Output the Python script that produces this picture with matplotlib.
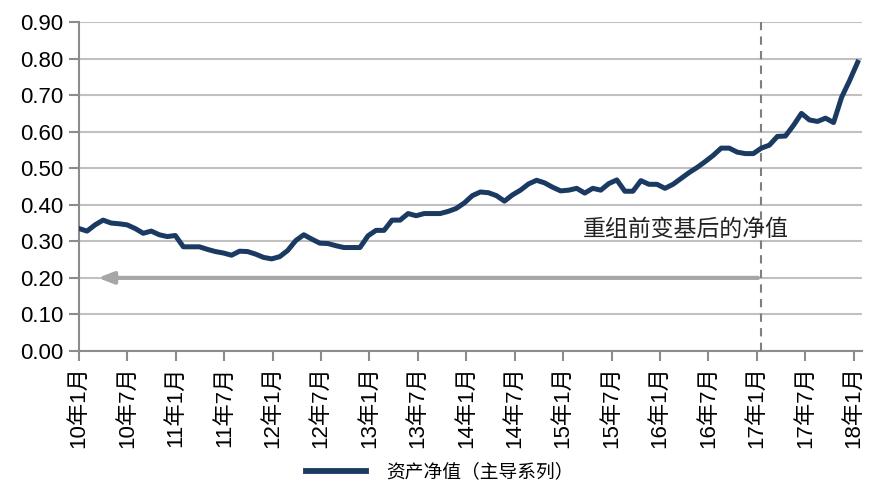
import matplotlib.pyplot as plt
import numpy as np

plt.rcParams['font.family'] = ['Liberation Sans', 'Noto Sans CJK SC', 'DejaVu Sans']

# monthly net asset value, Jan 2010 .. Jan 2018
nav = [
    0.335, 0.328, 0.345, 0.358, 0.350, 0.348, 0.345, 0.335, 0.322, 0.328, 0.318, 0.313,
    0.316, 0.285, 0.285, 0.285, 0.278, 0.272, 0.268, 0.262, 0.273, 0.272, 0.265, 0.256,
    0.252, 0.258, 0.275, 0.302, 0.318, 0.306, 0.295, 0.294, 0.288, 0.283, 0.283, 0.283,
    0.315, 0.330, 0.330, 0.358, 0.358, 0.376, 0.370, 0.376, 0.376, 0.376, 0.382, 0.390,
    0.405, 0.425, 0.435, 0.433, 0.425, 0.410, 0.427, 0.440, 0.457, 0.467, 0.460, 0.448,
    0.438, 0.440, 0.445, 0.432, 0.445, 0.440, 0.458, 0.468, 0.437, 0.437, 0.466, 0.456,
    0.456, 0.445, 0.456, 0.472, 0.488, 0.502, 0.518, 0.535, 0.555, 0.555, 0.544, 0.540,
    0.540, 0.555, 0.563, 0.587, 0.588, 0.617, 0.650, 0.632, 0.628, 0.637, 0.625, 0.694,
    0.740, 0.790,
]
months = np.arange(len(nav)) * 96.5 / (len(nav) - 1)

tick_pos = list(range(0, 97, 6))
tick_labels = [f"{10 + i // 2}年{1 if i % 2 == 0 else 7}月" for i in range(len(tick_pos))]

split_month = 84.5       # restructuring point (17年1月)
rebased_level = 0.20

fig = plt.figure(figsize=(8.71, 4.97), dpi=100)
ax = fig.add_axes([0.0907, 0.2938, 0.8986, 0.6619])

navy = '#1B3A62'
ax.plot(months, nav, color=navy, lw=3.6, solid_joinstyle='round',
        label='资产净值（主导系列）', zorder=4)

ax.set_xlim(0, 97)
ax.set_ylim(0, 0.9)
ax.set_yticks(np.arange(0, 0.91, 0.1))
ax.set_yticklabels([f"{v:.2f}" for v in np.arange(0, 0.91, 0.1)], fontsize=16)
ax.set_xticks(tick_pos)
ax.set_xticklabels(tick_labels, rotation=90, fontsize=16)

ax.grid(axis='y', color='#C0C0C0', lw=1.5)
ax.set_axisbelow(True)
for s in ['top', 'right']:
    ax.spines[s].set_visible(False)
for s in ['left', 'bottom']:
    ax.spines[s].set_color('#8C8C8C')
    ax.spines[s].set_linewidth(1.5)
ax.tick_params(axis='both', color='#8C8C8C', width=1.5, length=7, direction='out', pad=4)

# dashed split line and rebasing arrow
ax.axvline(split_month, color='#7F7F7F', lw=1.5, ls=(0, (4, 3)), zorder=3)
ax.annotate('', xy=(2.0, rebased_level), xytext=(split_month, rebased_level),
            arrowprops=dict(arrowstyle='-|>,head_length=0.9,head_width=0.35',
                            color='#A6A6A6', lw=3), zorder=3)
ax.text(62.5, 0.333, '重组前变基后的净值', fontsize=16.5, color='#222222',
        family=['Noto Sans CJK SC'], fontweight='light', va='center', ha='left')

leg = fig.legend(loc='lower center', bbox_to_anchor=(0.505, -0.005), frameon=False,
                 prop={'family': ['Noto Sans CJK SC'], 'size': 13.5, 'weight': 'light'},
                 handlelength=3.2, handletextpad=1.1)
leg.get_lines()[0].set_linewidth(4.2)

fig.savefig('out.png', dpi=100)
